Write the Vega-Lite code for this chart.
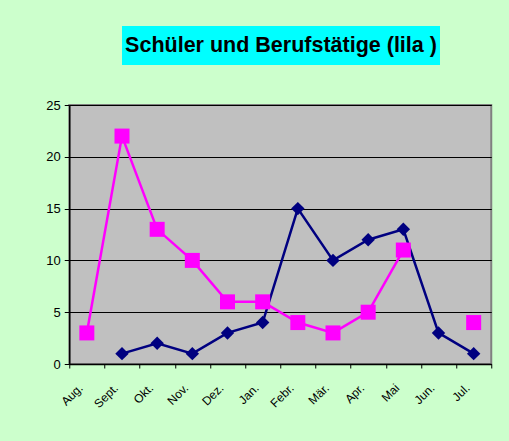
{
  "$schema": "https://vega.github.io/schema/vega-lite/v6.json",
  "background": "#ccffcc",
  "padding": {"left": 21, "top": 26, "right": 20, "bottom": 35},
  "center": true,
  "spacing": 33,
  "config": {
    "font": "Liberation Sans",
    "axis": {"labelFont": "Liberation Sans", "labelFontSize": 12, "labelColor": "#000000", "domainColor": "#000000", "tickColor": "#000000", "title": null}
  },
  "vconcat": [
    {
      "width": 318,
      "height": 39,
      "view": {"fill": "#00ffff", "stroke": null},
      "data": {"values": [{"t": "Schüler und Berufstätige (lila )"}]},
      "mark": {"type": "text", "font": "Liberation Sans", "fontSize": 21.5, "fontWeight": "bold", "color": "#000000", "align": "center", "baseline": "middle"},
      "encoding": {"text": {"field": "t"}}
    },
    {
      "width": 422,
      "height": 259,
      "view": {"fill": "#c0c0c0", "stroke": "#808080", "strokeWidth": 2},
      "data": {"values": [
        {"Monat": "Aug.", "Serie": "Schüler", "Wert": null},
        {"Monat": "Sept.", "Serie": "Schüler", "Wert": 1},
        {"Monat": "Okt.", "Serie": "Schüler", "Wert": 2},
        {"Monat": "Nov.", "Serie": "Schüler", "Wert": 1},
        {"Monat": "Dez.", "Serie": "Schüler", "Wert": 3},
        {"Monat": "Jan.", "Serie": "Schüler", "Wert": 4},
        {"Monat": "Febr.", "Serie": "Schüler", "Wert": 15},
        {"Monat": "Mär.", "Serie": "Schüler", "Wert": 10},
        {"Monat": "Apr.", "Serie": "Schüler", "Wert": 12},
        {"Monat": "Mai", "Serie": "Schüler", "Wert": 13},
        {"Monat": "Jun.", "Serie": "Schüler", "Wert": 3},
        {"Monat": "Jul.", "Serie": "Schüler", "Wert": 1},
        {"Monat": "Aug.", "Serie": "Berufstätige", "Wert": 3},
        {"Monat": "Sept.", "Serie": "Berufstätige", "Wert": 22},
        {"Monat": "Okt.", "Serie": "Berufstätige", "Wert": 13},
        {"Monat": "Nov.", "Serie": "Berufstätige", "Wert": 10},
        {"Monat": "Dez.", "Serie": "Berufstätige", "Wert": 6},
        {"Monat": "Jan.", "Serie": "Berufstätige", "Wert": 6},
        {"Monat": "Febr.", "Serie": "Berufstätige", "Wert": 4},
        {"Monat": "Mär.", "Serie": "Berufstätige", "Wert": 3},
        {"Monat": "Apr.", "Serie": "Berufstätige", "Wert": 5},
        {"Monat": "Mai", "Serie": "Berufstätige", "Wert": 11},
        {"Monat": "Jun.", "Serie": "Berufstätige", "Wert": null},
        {"Monat": "Jul.", "Serie": "Berufstätige", "Wert": 4}
      ]},
      "encoding": {
        "x": {"field": "Monat", "type": "nominal", "sort": null,
          "scale": {"domain": ["Aug.", "Sept.", "Okt.", "Nov.", "Dez.", "Jan.", "Febr.", "Mär.", "Apr.", "Mai", "Jun.", "Jul."]},
          "axis": {"labelAngle": -45, "tickBand": "extent", "tickSize": 4, "labelPadding": 14, "labelOffset": -10, "domainWidth": 1.5}},
        "y": {"field": "Wert", "type": "quantitative",
          "scale": {"domain": [0, 25], "nice": false},
          "axis": {"values": [0, 5, 10, 15, 20, 25], "grid": true, "gridColor": "#000000", "gridWidth": 1, "gridOpacity": 1, "tickSize": 5, "labelPadding": 4, "labelFontSize": 13, "domainWidth": 1.5, "minExtent": 47, "maxExtent": 47}},
        "color": {"field": "Serie", "type": "nominal", "legend": null,
          "scale": {"domain": ["Schüler", "Berufstätige"], "range": ["#000080", "#ff00ff"]}}
      },
      "layer": [
        {"mark": {"type": "line", "strokeWidth": 2.5}},
        {"mark": {"type": "point", "filled": true, "opacity": 1},
          "encoding": {
            "shape": {"field": "Serie", "type": "nominal", "legend": null, "scale": {"domain": ["Schüler", "Berufstätige"], "range": ["diamond", "square"]}},
            "size": {"field": "Serie", "type": "nominal", "legend": null, "scale": {"domain": ["Schüler", "Berufstätige"], "range": [180, 225]}}
          }}
      ]
    }
  ]
}
